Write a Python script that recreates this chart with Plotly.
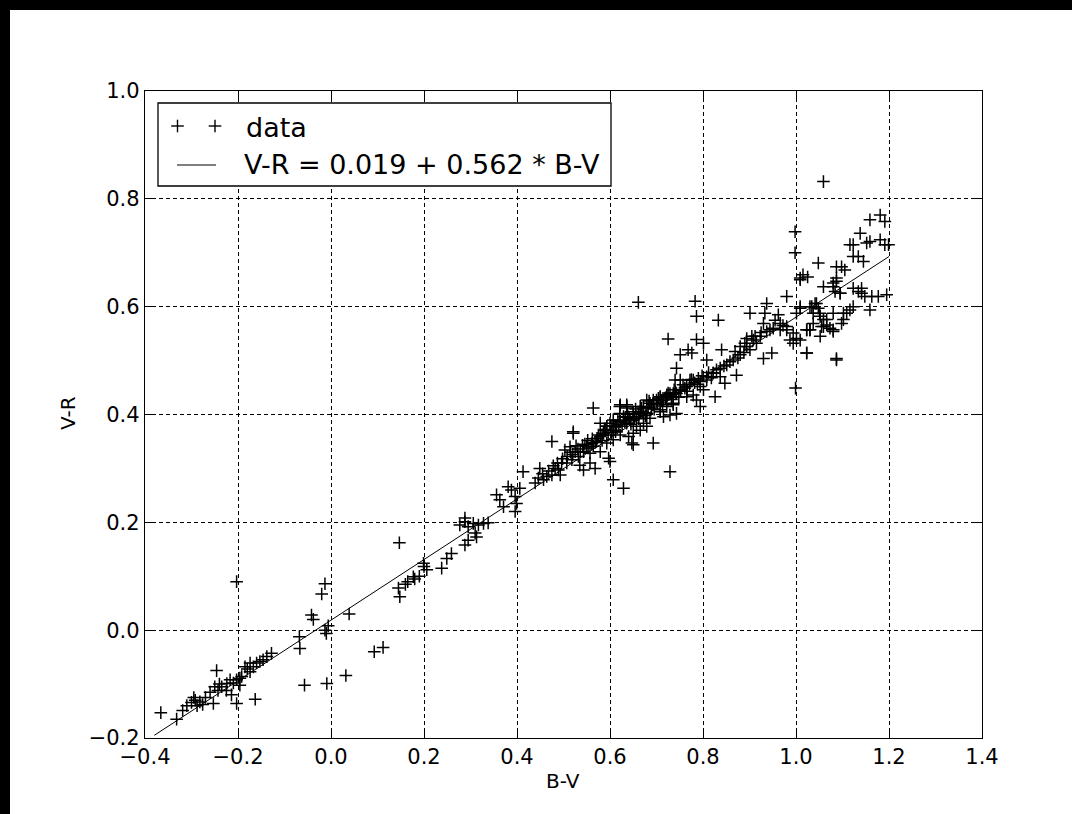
import plotly.graph_objects as go

# ---------------- data ----------------
points = [
    # blue end
    (-0.366, -0.153), (-0.332, -0.165), (-0.319, -0.149), (-0.310, -0.140), (-0.300, -0.134),
    (-0.295, -0.125), (-0.292, -0.130), (-0.288, -0.140), (-0.282, -0.133), (-0.276, -0.138),
    (-0.270, -0.125), (-0.260, -0.115), (-0.253, -0.136), (-0.250, -0.105), (-0.246, -0.075),
    (-0.243, -0.112), (-0.240, -0.100), (-0.235, -0.105), (-0.225, -0.112), (-0.224, -0.099),
    (-0.217, -0.092), (-0.214, -0.120), (-0.210, -0.098), (-0.203, 0.090), (-0.203, -0.092),
    (-0.196, -0.089), (-0.192, -0.086), (-0.203, -0.136), (-0.196, -0.102), (-0.185, -0.068),
    (-0.180, -0.072), (-0.174, -0.061), (-0.167, -0.068), (-0.160, -0.061), (-0.153, -0.058),
    (-0.146, -0.055), (-0.138, -0.049), (-0.128, -0.043), (-0.163, -0.128), (-0.174, -0.077),
    (-0.068, -0.012), (-0.067, -0.034), (-0.057, -0.102), (-0.042, 0.028), (-0.038, 0.020),
    (-0.020, 0.067), (-0.013, 0.086), (-0.013, 0.000), (-0.006, 0.008), (-0.010, -0.006),
    (-0.009, -0.099), (0.039, 0.030), (0.032, -0.084), (0.093, -0.040), (0.112, -0.032),
    (0.147, 0.162), (0.145, 0.078), (0.148, 0.062), (0.160, 0.085), (0.165, 0.090),
    (0.177, 0.099), (0.180, 0.095), (0.190, 0.100), (0.199, 0.124), (0.200, 0.118),
    (0.206, 0.112), (0.238, 0.115), (0.249, 0.133), (0.259, 0.142), (0.288, 0.158),
    (0.295, 0.167), (0.277, 0.195), (0.288, 0.201), (0.295, 0.192), (0.306, 0.198),
    (0.317, 0.195), (0.328, 0.198), (0.338, 0.199), (0.288, 0.208), (0.310, 0.180),
    (0.313, 0.173), (0.356, 0.251), (0.363, 0.242), (0.371, 0.229), (0.381, 0.266),
    (0.388, 0.260), (0.396, 0.248), (0.399, 0.235), (0.396, 0.220), (0.406, 0.263),
    (0.413, 0.294), (0.439, 0.273), (0.446, 0.282), (0.449, 0.300), (0.457, 0.279),
    (0.464, 0.285), (0.475, 0.288), (0.482, 0.300), (0.489, 0.297), (0.496, 0.310),
    (0.475, 0.350),
    # main band
    (0.503, 0.334), (0.514, 0.340), (0.521, 0.365), (0.525, 0.331), (0.532, 0.322),
    (0.543, 0.331), (0.550, 0.341), (0.557, 0.328), (0.564, 0.341), (0.571, 0.350),
    (0.579, 0.359), (0.586, 0.365), (0.593, 0.378), (0.600, 0.384), (0.607, 0.371),
    (0.614, 0.378), (0.622, 0.387), (0.629, 0.396), (0.636, 0.384), (0.643, 0.390),
    (0.650, 0.402), (0.657, 0.396), (0.665, 0.405), (0.672, 0.415), (0.679, 0.402),
    (0.686, 0.421), (0.693, 0.418), (0.700, 0.427), (0.708, 0.433), (0.715, 0.427),
    (0.722, 0.436), (0.729, 0.439), (0.736, 0.433), (0.743, 0.439),
    (0.564, 0.412), (0.521, 0.368), (0.568, 0.300), (0.597, 0.319), (0.600, 0.313),
    (0.607, 0.279), (0.629, 0.263), (0.693, 0.347), (0.729, 0.294), (0.650, 0.344),
    (0.622, 0.418), (0.636, 0.415), (0.729, 0.399),
    (0.543, 0.297), (0.535, 0.306), (0.493, 0.288), (0.507, 0.310), (0.518, 0.316),
    (0.557, 0.310), (0.579, 0.331), (0.593, 0.347), (0.607, 0.353), (0.622, 0.362),
    (0.640, 0.359), (0.657, 0.378), (0.672, 0.384), (0.686, 0.393), (0.650, 0.365),
    (0.665, 0.371), (0.679, 0.378), (0.708, 0.405), (0.722, 0.415), (0.736, 0.418),
    (0.743, 0.402), (0.715, 0.396),
    (0.520, 0.326), (0.531, 0.336), (0.541, 0.343), (0.552, 0.352), (0.561, 0.346),
    (0.572, 0.356), (0.583, 0.362), (0.591, 0.372), (0.603, 0.366), (0.611, 0.377),
    (0.619, 0.381), (0.632, 0.386), (0.641, 0.393), (0.652, 0.394), (0.661, 0.401),
    (0.671, 0.404), (0.682, 0.412), (0.689, 0.414), (0.702, 0.421), (0.711, 0.426),
    (0.719, 0.431), (0.732, 0.428), (0.741, 0.441), (0.752, 0.444), (0.761, 0.449),
    (0.771, 0.456), (0.782, 0.459),
    (0.455, 0.290), (0.468, 0.295), (0.478, 0.305), (0.487, 0.310), (0.498, 0.318),
    (0.508, 0.322), (0.515, 0.330), (0.527, 0.342), (0.536, 0.330), (0.546, 0.345),
    (0.553, 0.338), (0.562, 0.355), (0.568, 0.348), (0.575, 0.362), (0.583, 0.352),
    (0.588, 0.371), (0.596, 0.362), (0.604, 0.378), (0.612, 0.368), (0.617, 0.390),
    (0.626, 0.378), (0.633, 0.395), (0.638, 0.400), (0.645, 0.382), (0.655, 0.410),
    (0.662, 0.392), (0.668, 0.412), (0.676, 0.398), (0.684, 0.425), (0.695, 0.410),
    (0.704, 0.430), (0.713, 0.418), (0.725, 0.440), (0.738, 0.446), (0.748, 0.432),
    (0.757, 0.455), (0.766, 0.443), (0.775, 0.465), (0.788, 0.456), (0.798, 0.472),
    (0.812, 0.478), (0.818, 0.468), (0.845, 0.490), (0.858, 0.498), (0.875, 0.505),
    (0.888, 0.515), (0.912, 0.545), (0.925, 0.552), (0.955, 0.575), (0.962, 0.585),
    (0.972, 0.565),
    # upper part
    (0.661, 0.608), (0.783, 0.610), (0.786, 0.582), (0.725, 0.540), (0.833, 0.575),
    (0.751, 0.511), (0.768, 0.520), (0.776, 0.514), (0.786, 0.539), (0.801, 0.532),
    (0.808, 0.501), (0.743, 0.486), (0.751, 0.464), (0.740, 0.464), (0.772, 0.464),
    (0.790, 0.467), (0.794, 0.452), (0.808, 0.464), (0.822, 0.477), (0.829, 0.483),
    (0.837, 0.470), (0.847, 0.458), (0.826, 0.433), (0.872, 0.473), (0.840, 0.520),
    (0.869, 0.517), (0.880, 0.526), (0.894, 0.541), (0.905, 0.545), (0.915, 0.532),
    (0.901, 0.520), (0.890, 0.532), (0.901, 0.588), (0.933, 0.588), (0.937, 0.606),
    (0.930, 0.569), (0.944, 0.557), (0.980, 0.619), (0.966, 0.569), (0.980, 0.563),
    (0.987, 0.538), (0.994, 0.532), (0.930, 0.504), (0.948, 0.514), (0.999, 0.449),
    (1.023, 0.514), (1.009, 0.600), (1.001, 0.588), (1.087, 0.504), (1.034, 0.600),
    (1.044, 0.606), (1.051, 0.588), (1.066, 0.576), (1.080, 0.557), (1.037, 0.569),
    (1.023, 0.557), (1.059, 0.563), (1.080, 0.637), (1.087, 0.647), (1.109, 0.588),
    (1.095, 0.625), (1.009, 0.650),
    (0.593, 0.378), (0.607, 0.390), (0.621, 0.402), (0.636, 0.412), (0.650, 0.405),
    (0.665, 0.415), (0.679, 0.427), (0.693, 0.427), (0.708, 0.433), (0.722, 0.436),
    (0.736, 0.439), (0.751, 0.446), (0.765, 0.452), (0.779, 0.464), (0.794, 0.461),
    (0.808, 0.470), (0.822, 0.477), (0.837, 0.486), (0.851, 0.492), (0.865, 0.501),
    (0.880, 0.511), (0.894, 0.526), (0.908, 0.538), (0.923, 0.545), (0.937, 0.554),
    (0.951, 0.560), (0.966, 0.557), (0.980, 0.557),
    (0.621, 0.415), (0.636, 0.418), (0.786, 0.427), (0.794, 0.415), (0.647, 0.347),
    (0.579, 0.384), (0.650, 0.390), (0.679, 0.402), (0.708, 0.409), (0.736, 0.421),
    (0.765, 0.433), (0.779, 0.436), (0.801, 0.446), (0.994, 0.551), (1.001, 0.541),
    (1.030, 0.557), (1.052, 0.545),
    # red end
    (1.059, 0.832), (1.159, 0.761), (1.181, 0.770), (1.191, 0.758), (1.138, 0.736),
    (1.116, 0.715), (1.123, 0.715), (1.152, 0.718), (1.159, 0.721), (1.181, 0.724),
    (1.191, 0.715), (1.199, 0.715), (1.123, 0.693), (1.134, 0.693), (1.145, 0.684),
    (1.048, 0.681), (1.087, 0.674), (1.098, 0.674), (1.105, 0.668), (1.059, 0.637),
    (1.080, 0.644), (1.087, 0.653), (1.084, 0.628), (1.095, 0.625), (1.123, 0.634),
    (1.134, 0.628), (1.141, 0.634), (1.141, 0.625), (1.148, 0.619), (1.163, 0.619),
    (1.177, 0.619), (1.195, 0.622), (1.159, 0.594), (1.030, 0.600), (1.041, 0.606),
    (1.048, 0.597), (1.037, 0.588), (1.052, 0.582), (1.059, 0.576), (1.066, 0.566),
    (1.055, 0.563), (1.073, 0.560), (1.080, 0.554), (1.023, 0.557), (1.030, 0.557),
    (1.080, 0.588), (1.102, 0.588), (1.116, 0.594), (1.123, 0.600), (1.102, 0.576),
    (1.098, 0.569), (1.023, 0.514), (1.087, 0.501), (1.009, 0.653), (1.009, 0.597),
    (1.009, 0.538), (0.998, 0.739), (0.998, 0.700), (1.015, 0.659), (1.025, 0.655),
]
bv = [p[0] for p in points]
vr = [p[1] for p in points]

fit_bv = [-0.38, 1.20]
fit_vr = [-0.195, 0.693]

x_ticks = [-0.4, -0.2, 0.0, 0.2, 0.4, 0.6, 0.8, 1.0, 1.2, 1.4]
x_labels = ["\u22120.4", "\u22120.2", "0.0", "0.2", "0.4", "0.6", "0.8", "1.0", "1.2", "1.4"]
y_ticks = [-0.2, 0.0, 0.2, 0.4, 0.6, 0.8, 1.0]
y_labels = ["\u22120.2", "0.0", "0.2", "0.4", "0.6", "0.8", "1.0"]

legend_data = "data"
legend_fit = "V-R = 0.019 + 0.562 * B-V"
x_title = "B-V"
y_title = "V-R"

# ---------------- layout geometry (pixels) ----------------
W, H = 1072, 814
L, R, T, B = 145, 982, 91, 738
FONT = "DejaVu Sans"


def px(x):
    return (x - L) / (R - L)


def py(y):
    return (B - y) / (B - T)


fig = go.Figure()
fig.add_trace(go.Scatter(
    x=bv, y=vr, mode="markers", showlegend=False, cliponaxis=False,
    marker=dict(symbol="cross-thin", size=9, color="black",
                line=dict(color="black", width=1.5)),
))
fig.add_trace(go.Scatter(
    x=fit_bv, y=fit_vr, mode="lines", showlegend=False,
    line=dict(color="black", width=1),
))

axis_common = dict(
    showline=True, linecolor="black", linewidth=1.3, mirror="ticks",
    ticks="inside", ticklen=8, tickwidth=1.3, tickcolor="black",
    showgrid=True, gridcolor="black", gridwidth=1, griddash="4px,3px",
    zeroline=False, tickfont=dict(family=FONT, size=21, color="black"),
)
fig.update_xaxes(range=[-0.4, 1.4], tickvals=x_ticks, ticktext=x_labels, **axis_common)
fig.update_yaxes(range=[-0.2, 1.0], tickvals=y_ticks, ticktext=y_labels, **axis_common)

shapes = [
    # black strips at top and left of the picture
    dict(type="rect", xref="paper", yref="paper", x0=px(0), x1=px(W), y0=py(10), y1=py(0),
         fillcolor="black", line=dict(width=0), layer="above"),
    dict(type="rect", xref="paper", yref="paper", x0=px(0), x1=px(10), y0=py(H), y1=py(0),
         fillcolor="black", line=dict(width=0), layer="above"),
    # legend box
    dict(type="rect", xref="paper", yref="paper", x0=px(158), x1=px(611), y0=py(186), y1=py(103),
         fillcolor="white", line=dict(color="black", width=1.3), layer="above"),
    # legend line sample
    dict(type="line", xref="paper", yref="paper", x0=px(177), x1=px(216), y0=py(165), y1=py(165),
         line=dict(color="black", width=1), layer="above"),
]
for cx in (177.5, 215):
    cy = 126
    shapes.append(dict(type="line", xref="paper", yref="paper", x0=px(cx - 6.3), x1=px(cx + 6.3),
                       y0=py(cy), y1=py(cy), line=dict(color="black", width=1.4), layer="above"))
    shapes.append(dict(type="line", xref="paper", yref="paper", x0=px(cx), x1=px(cx),
                       y0=py(cy + 6.3), y1=py(cy - 6.3), line=dict(color="black", width=1.4), layer="above"))

annotations = [
    dict(text=legend_data, x=px(244), y=py(127), xref="paper", yref="paper", showarrow=False,
         xanchor="left", yanchor="middle", font=dict(family=FONT, size=27, color="black")),
    dict(text=legend_fit, x=px(242), y=py(164), xref="paper", yref="paper", showarrow=False,
         xanchor="left", yanchor="middle", font=dict(family=FONT, size=27, color="black")),
    dict(text=x_title, x=px(563), y=py(781), xref="paper", yref="paper", showarrow=False,
         xanchor="center", yanchor="middle", font=dict(family=FONT, size=20, color="black")),
    dict(text=y_title, x=px(68), y=py(413), xref="paper", yref="paper", showarrow=False,
         textangle=-90, xanchor="center", yanchor="middle", font=dict(family=FONT, size=20, color="black")),
]

fig.update_layout(
    width=W, height=H, autosize=False,
    margin=dict(l=L, r=W - R, t=T, b=H - B, pad=0),
    paper_bgcolor="white", plot_bgcolor="white",
    shapes=shapes, annotations=annotations, showlegend=False,
    font=dict(family=FONT, color="black"),
)

page_fix = ("document.documentElement.style.margin='0';document.body.style.margin='0';"
            "document.body.style.padding='0';document.documentElement.style.overflow='hidden';"
            "document.body.style.overflow='hidden';")
fig.write_html("out.html", post_script=page_fix, config={"displayModeBar": False})
